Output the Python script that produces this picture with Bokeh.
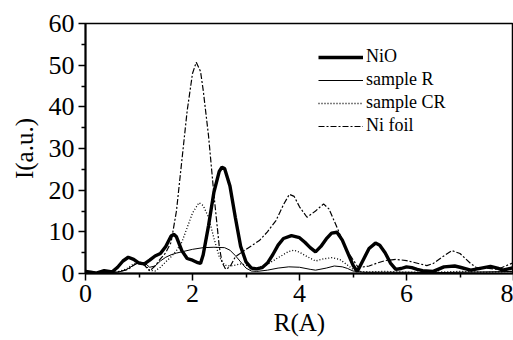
from bokeh.plotting import figure
from bokeh.models import Legend, LegendItem, Range1d, FixedTicker
from bokeh.embed import file_html
from bokeh.resources import INLINE

# ---- data ----
nio_r = [0, 0.1, 0.2, 0.35, 0.5, 0.6, 0.7, 0.8, 0.9, 1.0, 1.1, 1.2, 1.3, 1.4, 1.5, 1.6, 1.65, 1.7, 1.8, 1.9,
         2.0, 2.1, 2.15, 2.2, 2.3, 2.4, 2.5, 2.55, 2.6, 2.7, 2.8, 2.9, 3.0, 3.1, 3.2, 3.3, 3.4, 3.5, 3.6, 3.7,
         3.85, 4.0, 4.1, 4.2, 4.3, 4.4, 4.5, 4.6, 4.7, 4.8, 4.9, 5.0, 5.08, 5.2, 5.3, 5.42, 5.5, 5.6, 5.7, 5.8,
         5.9, 6.0, 6.1, 6.2, 6.3, 6.5, 6.7, 6.9, 7.0, 7.2, 7.4, 7.57, 7.7, 7.8, 8.0]
nio_i = [0.5, 0.3, 0.1, 0.7, 0.4, 1.5, 3.0, 3.9, 3.4, 2.5, 2.3, 3.2, 4.2, 4.8, 6.5, 9.0, 9.4, 8.8, 5.5, 3.6,
         3.2, 2.6, 2.4, 4.5, 11.5, 19.5, 24.5, 25.5, 25.2, 21.0, 13.5, 6.5, 2.8, 1.3, 1.1, 1.4, 2.5, 4.5, 6.8, 8.4,
         9.1, 8.6, 7.5, 6.2, 5.2, 6.5, 8.3, 9.7, 9.9, 8.0, 5.0, 2.0, 0.5, 3.5, 6.0, 7.3, 6.8, 5.0, 2.5, 1.0,
         1.2, 1.6, 1.4, 1.0, 0.7, 0.5, 1.6, 1.8, 1.5, 0.8, 1.3, 1.7, 1.3, 0.8, 1.4]

r_r = [0, 0.3, 0.6, 0.75, 0.9, 1.0, 1.1, 1.2, 1.3, 1.4, 1.5, 1.6, 1.7, 1.8, 2.0, 2.2, 2.4, 2.6, 2.7, 2.8,
       2.9, 3.0, 3.1, 3.2, 3.4, 3.6, 3.8, 4.0, 4.2, 4.3, 4.5, 4.65, 4.8, 4.9, 5.0, 5.2, 5.5, 6.0, 6.5, 7.0,
       7.5, 8.0]
r_i = [0.3, 0.2, 0.3, 0.8, 2.0, 2.7, 2.6, 1.5, 1.8, 3.0, 3.9, 4.5, 4.9, 5.2, 5.8, 6.2, 6.3, 6.2, 5.6, 4.3,
       2.8, 1.3, 0.6, 0.5, 0.8, 1.3, 1.6, 1.5, 1.0, 0.8, 1.3, 1.8, 1.6, 1.2, 0.6, 0.3, 0.3, 0.3, 0.2, 0.3,
       0.4, 0.5]

cr_r = [0, 0.3, 0.6, 0.75, 0.9, 1.0, 1.1, 1.2, 1.3, 1.4, 1.5, 1.6, 1.7, 1.8, 1.9, 2.0, 2.12, 2.2, 2.3, 2.4,
        2.5, 2.6, 2.7, 2.8, 2.9, 3.0, 3.1, 3.2, 3.4, 3.6, 3.8, 3.9, 4.0, 4.15, 4.3, 4.45, 4.6, 4.75, 4.9, 5.0,
        5.1, 5.3, 5.6, 6.0, 6.5, 7.0, 7.5, 8.0]
cr_i = [0.3, 0.2, 0.4, 1.0, 2.3, 2.8, 2.3, 0.8, 0.6, 1.5, 2.8, 4.0, 5.5, 7.5, 11.0, 14.5, 17.0, 16.3, 13.5, 8.5,
        4.0, 2.0, 1.8, 2.0, 2.3, 2.0, 1.5, 1.3, 2.2, 3.8, 5.3, 5.6, 5.1, 4.0, 3.0, 3.5, 3.8, 3.4, 2.0, 1.0,
        0.5, 0.4, 0.5, 0.3, 0.3, 0.5, 0.3, 0.5]

foil_r = [0, 0.3, 0.6, 0.8, 0.9, 1.0, 1.1, 1.2, 1.3, 1.4, 1.5, 1.6, 1.7, 1.8, 1.9, 2.0, 2.07, 2.15, 2.2, 2.3,
          2.4, 2.5, 2.55, 2.62, 2.7, 2.8, 3.0, 3.25, 3.4, 3.56, 3.7, 3.81, 3.9, 4.0, 4.14, 4.3, 4.45, 4.55, 4.7, 4.85,
          4.95, 5.1, 5.3, 5.45, 5.6, 5.8, 6.0, 6.13, 6.25, 6.38, 6.5, 6.65, 6.85, 7.0, 7.2, 7.3, 7.5, 7.7, 7.85, 8.0]
foil_i = [0.5, 0.2, 0.4, 1.0, 2.0, 2.7, 2.0, 0.6, 1.8, 3.5, 5.0, 7.5, 15, 27, 39, 48, 50.7, 48.5, 44, 33,
          19, 6.5, 2.8, 1.0, 1.6, 4.0, 5.8, 7.9, 10.0, 12.7, 16.5, 19.0, 18.5, 16.0, 13.5, 15.0, 16.7, 15.5, 11.1, 6.5,
          4.3, 1.4, 1.8, 2.5, 3.1, 3.4, 3.1, 2.7, 2.3, 1.9, 2.4, 3.8, 5.5, 4.8, 2.4, 1.5, 1.3, 1.0, 1.8, 2.6]

series_names = ["NiO", "sample R", "sample CR", "Ni foil"]
x_ticks = [0, 2, 4, 6, 8]
y_ticks = [0, 10, 20, 30, 40, 50, 60]

FONT = "Liberation Serif"

p = figure(width=513, height=340, output_backend="svg", toolbar_location=None,
           x_range=Range1d(0, 8), y_range=Range1d(0, 60),
           min_border_left=85, min_border_right=0, min_border_top=23, min_border_bottom=67)
p.background_fill_color = "white"
p.border_fill_color = "white"
p.xgrid.visible = False
p.ygrid.visible = False
p.outline_line_color = "black"
p.outline_line_width = 1.5

l1 = p.line(nio_r, nio_i, line_color="black", line_width=3.4)
l2 = p.line(r_r, r_i, line_color="black", line_width=1.0)
l3 = p.line(cr_r, cr_i, line_color="black", line_width=1.3, line_dash="1 2")
l4 = p.line(foil_r, foil_i, line_color="black", line_width=1.2, line_dash="6 2 2 2")

for ax in (p.xaxis[0], p.yaxis[0]):
    ax.axis_line_width = 2
    ax.axis_line_color = "black"
    ax.major_tick_line_width = 1.5
    ax.minor_tick_line_width = 1.5
    ax.major_tick_out = 7
    ax.major_tick_in = 0
    ax.minor_tick_out = 4
    ax.minor_tick_in = 0
    ax.major_label_text_font = FONT
    ax.major_label_text_font_size = "26px"
    ax.major_label_text_color = "black"
    ax.axis_label_text_font = FONT
    ax.axis_label_text_font_size = "25px"
    ax.axis_label_text_font_style = "normal"
    ax.axis_label_text_color = "black"

p.xaxis[0].ticker = FixedTicker(ticks=x_ticks, minor_ticks=[1, 3, 5, 7])
p.yaxis[0].ticker = FixedTicker(ticks=y_ticks, minor_ticks=[5, 15, 25, 35, 45, 55])
p.xaxis[0].axis_label = "R(A)"
p.yaxis[0].axis_label = "I(a.u.)"
p.xaxis[0].major_label_standoff = 4
p.yaxis[0].major_label_standoff = 4
p.xaxis[0].axis_label_standoff = 4
p.yaxis[0].axis_label_standoff = 8

legend = Legend(items=[LegendItem(label=n, renderers=[r]) for n, r in zip(series_names, [l1, l2, l3, l4])],
                location=(233, 137))
legend.border_line_color = None
legend.background_fill_alpha = 0
legend.label_text_font = FONT
legend.label_text_font_size = "18px"
legend.label_text_color = "black"
legend.glyph_width = 45
legend.glyph_height = 20
legend.label_height = 20
legend.spacing = 2
legend.padding = 0
legend.margin = 0
legend.label_standoff = 3
p.add_layout(legend, "center")

open("out.html", "w").write(file_html(p, INLINE))
